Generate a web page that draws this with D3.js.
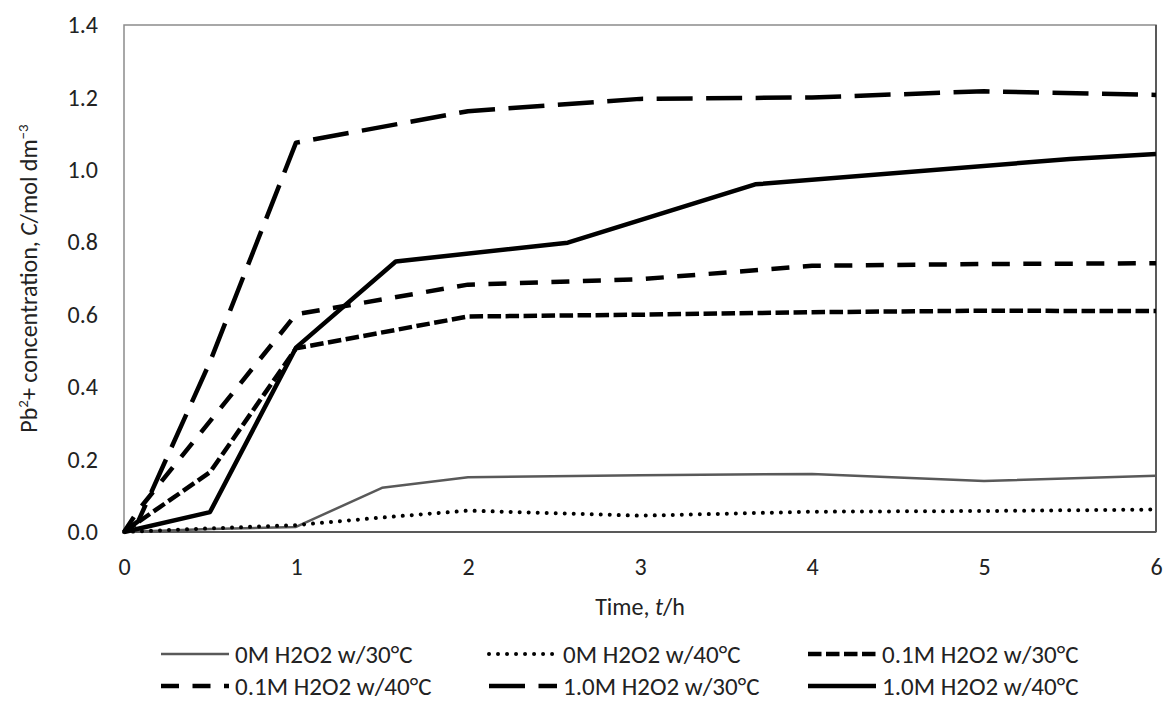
<!DOCTYPE html>
<html>
<head>
<meta charset="utf-8">
<script src="https://cdn.jsdelivr.net/npm/d3@7"></script>
<style>
  html, body { margin: 0; padding: 0; background: #fff; }
  svg { display: block; }
  text { font-family: Carlito, Calibri, Lato, sans-serif; fill: #222; }
</style>
</head>
<body>
<svg id="chart" width="1165" height="702"></svg>
<script>
// Pb2+ leaching: concentration (mol dm^-3) against time (h)
const t0M30 = [0, 0.5, 1, 1.5, 2, 3, 4, 5, 6];
const c0M30 = [0, 0.008, 0.014, 0.122, 0.151, 0.157, 0.160, 0.141, 0.155];

const t0M40 = [0, 0.5, 1, 1.5, 2, 3, 4, 5, 6];
const c0M40 = [0, 0.010, 0.019, 0.040, 0.059, 0.045, 0.056, 0.058, 0.062];

const t01M30 = [0, 0.5, 1, 2, 3, 4, 5, 6];
const c01M30 = [0, 0.165, 0.507, 0.595, 0.600, 0.607, 0.611, 0.610];

const t01M40 = [0, 0.083, 1, 2, 3, 4, 5, 6];
const c01M40 = [0, 0.060, 0.601, 0.683, 0.698, 0.735, 0.740, 0.742];

const t10M30 = [0, 0.083, 0.5, 1, 2, 3, 4, 5, 6];
const c10M30 = [0, 0.030, 0.470, 1.075, 1.162, 1.196, 1.200, 1.217, 1.207];

const t10M40 = [0, 0.5, 1, 1.58, 2.58, 3.67, 5.5, 6];
const c10M40 = [0, 0.055, 0.509, 0.747, 0.799, 0.960, 1.030, 1.044];

const seriesNames = [
  "0M H2O2 w/30°C", "0M H2O2 w/40°C", "0.1M H2O2 w/30°C",
  "0.1M H2O2 w/40°C", "1.0M H2O2 w/30°C", "1.0M H2O2 w/40°C"
];
const xTicks = [0, 1, 2, 3, 4, 5, 6];
const yTicks = [0, 0.2, 0.4, 0.6, 0.8, 1.0, 1.2, 1.4];

// line styles for each series (Excel-like dash presets)
const styles = [
  { color: "#595959", width: 2.5, dash: null, cap: "butt" },
  { color: "#000", width: 4, dash: "0.01 9", cap: "round" },
  { color: "#000", width: 4.5, dash: "13.5 4.5", cap: "butt" },
  { color: "#000", width: 4.5, dash: "18 13.5", cap: "butt" },
  { color: "#000", width: 4.5, dash: "36 13.5", cap: "butt" },
  { color: "#000", width: 4.5, dash: null, cap: "butt" }
];

const series = [
  [t0M30, c0M30], [t0M40, c0M40], [t01M30, c01M30],
  [t01M40, c01M40], [t10M30, c10M30], [t10M40, c10M40]
].map(([t, c], i) => ({ name: seriesNames[i], pts: t.map((x, j) => [x, c[j]]), style: styles[i] }));

const svg = d3.select("#chart");
const plot = { left: 124, right: 1156, top: 25, bottom: 532 };

const x = d3.scaleLinear().domain([0, 6]).range([plot.left, plot.right]);
const y = d3.scaleLinear().domain([0, 1.4]).range([plot.bottom, plot.top]);

// plot frame
svg.append("rect")
  .attr("x", plot.left).attr("y", plot.top)
  .attr("width", plot.right - plot.left).attr("height", plot.bottom - plot.top)
  .attr("fill", "none").attr("stroke", "#8c8c8c").attr("stroke-width", 1.5);

// axes (labels only; axis lines drawn separately)
const xAxis = svg.append("g").attr("transform", `translate(0,${plot.bottom})`)
  .call(d3.axisBottom(x).tickValues(xTicks).tickFormat(d3.format("d")).tickSize(0).tickPadding(26));
const yAxis = svg.append("g").attr("transform", `translate(${plot.left},0)`)
  .call(d3.axisLeft(y).tickValues(yTicks).tickFormat(d3.format(".1f")).tickSize(0).tickPadding(26));
[xAxis, yAxis].forEach(g => {
  g.select(".domain").remove();
  g.selectAll("text").style("font-size", "24px").attr("fill", "#222");
});

svg.append("line")
  .attr("x1", plot.left).attr("x2", plot.right).attr("y1", plot.bottom).attr("y2", plot.bottom)
  .attr("stroke", "#595959").attr("stroke-width", 2);
svg.append("line")
  .attr("x1", plot.right).attr("x2", plot.right).attr("y1", plot.top).attr("y2", plot.bottom)
  .attr("stroke", "#595959").attr("stroke-width", 2);

// series lines
const line = d3.line().x(d => x(d[0])).y(d => y(d[1]));
svg.append("g").selectAll("path").data(series).join("path")
  .attr("d", d => line(d.pts))
  .attr("fill", "none")
  .attr("stroke", d => d.style.color)
  .attr("stroke-width", d => d.style.width)
  .attr("stroke-dasharray", d => d.style.dash)
  .attr("stroke-linecap", d => d.style.cap)
  .attr("stroke-linejoin", "round");

// axis titles
const xt = svg.append("text")
  .attr("x", (plot.left + plot.right) / 2).attr("y", 615)
  .attr("text-anchor", "middle").style("font-size", "24px");
xt.append("tspan").text("Time, ");
xt.append("tspan").attr("font-style", "italic").text("t");
xt.append("tspan").text("/h");

const yt = svg.append("text")
  .attr("transform", `translate(37,${(plot.top + plot.bottom) / 2}) rotate(-90)`)
  .attr("text-anchor", "middle").style("font-size", "24px");
yt.append("tspan").text("Pb");
yt.append("tspan").attr("baseline-shift", "super").style("font-size", "15px").text("2");
yt.append("tspan").text("+ concentration, ");
yt.append("tspan").attr("font-style", "italic").text("C");
yt.append("tspan").text("/mol dm");
yt.append("tspan").attr("baseline-shift", "super").style("font-size", "15px").text("−3");

// legend: two rows of three entries
const colX = [161, 489, 808];
const rowY = [654, 686];
const sampleLen = 68;
const leg = svg.append("g").selectAll("g").data(series).join("g")
  .attr("transform", (d, i) => `translate(${colX[i % 3]},${rowY[Math.floor(i / 3)]})`);
leg.append("line")
  .attr("x1", 0).attr("x2", sampleLen).attr("y1", 0).attr("y2", 0)
  .attr("stroke", d => d.style.color)
  .attr("stroke-width", d => d.style.width)
  .attr("stroke-dasharray", d => d.style.dash)
  .attr("stroke-linecap", d => d.style.cap);
leg.append("text")
  .attr("x", sampleLen + 6).attr("y", 0).attr("dy", "0.35em")
  .style("font-size", "25px")
  .text(d => d.name);
</script>
</body>
</html>
